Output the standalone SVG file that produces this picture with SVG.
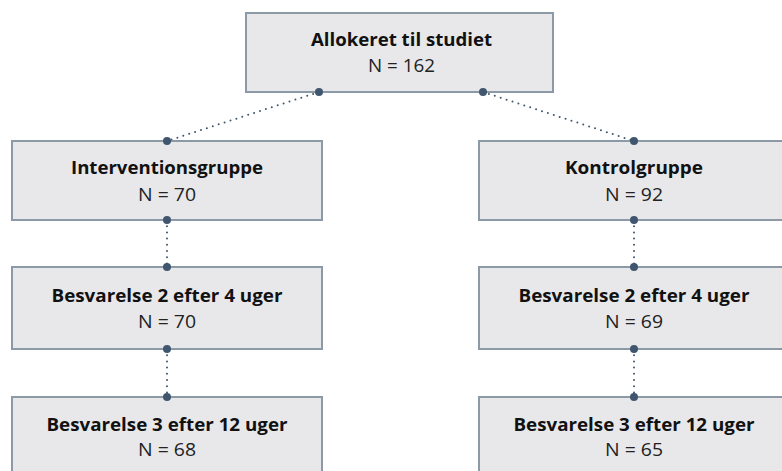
<svg xmlns="http://www.w3.org/2000/svg" width="782" height="471" viewBox="0 0 782 471">
<style>
.box{fill:#e8e8ea;stroke:#8c99a7;stroke-width:2}
.t{font-family:"Open Sans","Liberation Sans",sans-serif;font-size:17.5px;font-weight:700;fill:#111;text-anchor:middle}
.n{font-family:"Open Sans","Liberation Sans",sans-serif;font-size:17.5px;fill:#222;text-anchor:middle}
.c{stroke:#3f566e;stroke-width:2;stroke-dasharray:0 6.2;stroke-linecap:round;fill:none}
.d{fill:#3f566e}
</style>
<rect width="782" height="471" fill="#fff"/>
<g id="n0"><rect class="box" x="246" y="13" width="307" height="79"/><text class="t" x="401.5" y="46" textLength="181" lengthAdjust="spacingAndGlyphs">Allokeret til studiet</text><text class="n" x="401.5" y="72" textLength="67" lengthAdjust="spacingAndGlyphs">N = 162</text></g>
<g id="n1"><rect class="box" x="12" y="141" width="310" height="79"/><text class="t" x="167" y="174" textLength="192" lengthAdjust="spacingAndGlyphs">Interventionsgruppe</text><text class="n" x="167" y="201" textLength="58" lengthAdjust="spacingAndGlyphs">N = 70</text></g>
<g id="n2"><rect class="box" x="479" y="141" width="310" height="79"/><text class="t" x="634" y="174" textLength="138" lengthAdjust="spacingAndGlyphs">Kontrolgruppe</text><text class="n" x="634" y="201" textLength="58" lengthAdjust="spacingAndGlyphs">N = 92</text></g>
<g id="n3"><rect class="box" x="12" y="267" width="310" height="82"/><text class="t" x="167" y="302" textLength="231" lengthAdjust="spacingAndGlyphs">Besvarelse 2 efter 4 uger</text><text class="n" x="167" y="328" textLength="58" lengthAdjust="spacingAndGlyphs">N = 70</text></g>
<g id="n4"><rect class="box" x="479" y="267" width="310" height="82"/><text class="t" x="634" y="302" textLength="231" lengthAdjust="spacingAndGlyphs">Besvarelse 2 efter 4 uger</text><text class="n" x="634" y="328" textLength="58" lengthAdjust="spacingAndGlyphs">N = 69</text></g>
<g id="n5"><rect class="box" x="12" y="397" width="310" height="90"/><text class="t" x="167" y="431" textLength="241" lengthAdjust="spacingAndGlyphs">Besvarelse 3 efter 12 uger</text><text class="n" x="167" y="456" textLength="58" lengthAdjust="spacingAndGlyphs">N = 68</text></g>
<g id="n6"><rect class="box" x="479" y="397" width="310" height="90"/><text class="t" x="634" y="431" textLength="241" lengthAdjust="spacingAndGlyphs">Besvarelse 3 efter 12 uger</text><text class="n" x="634" y="456" textLength="58" lengthAdjust="spacingAndGlyphs">N = 65</text></g>
<g id="connectors">
<path class="c" d="M319 92 L167 141"/>
<path class="c" d="M483 92 L634 141"/>
<path class="c" d="M167 220 L167 267"/>
<path class="c" d="M634 220 L634 267"/>
<path class="c" d="M167 349 L167 397"/>
<path class="c" d="M634 349 L634 397"/>
<circle class="d" cx="319" cy="92" r="4"/><circle class="d" cx="483" cy="92" r="4"/>
<circle class="d" cx="167" cy="141" r="4"/><circle class="d" cx="634" cy="141" r="4"/>
<circle class="d" cx="167" cy="220" r="4"/><circle class="d" cx="634" cy="220" r="4"/>
<circle class="d" cx="167" cy="267" r="4"/><circle class="d" cx="634" cy="267" r="4"/>
<circle class="d" cx="167" cy="349" r="4"/><circle class="d" cx="634" cy="349" r="4"/>
<circle class="d" cx="167" cy="397" r="4"/><circle class="d" cx="634" cy="397" r="4"/>
</g>
</svg>
